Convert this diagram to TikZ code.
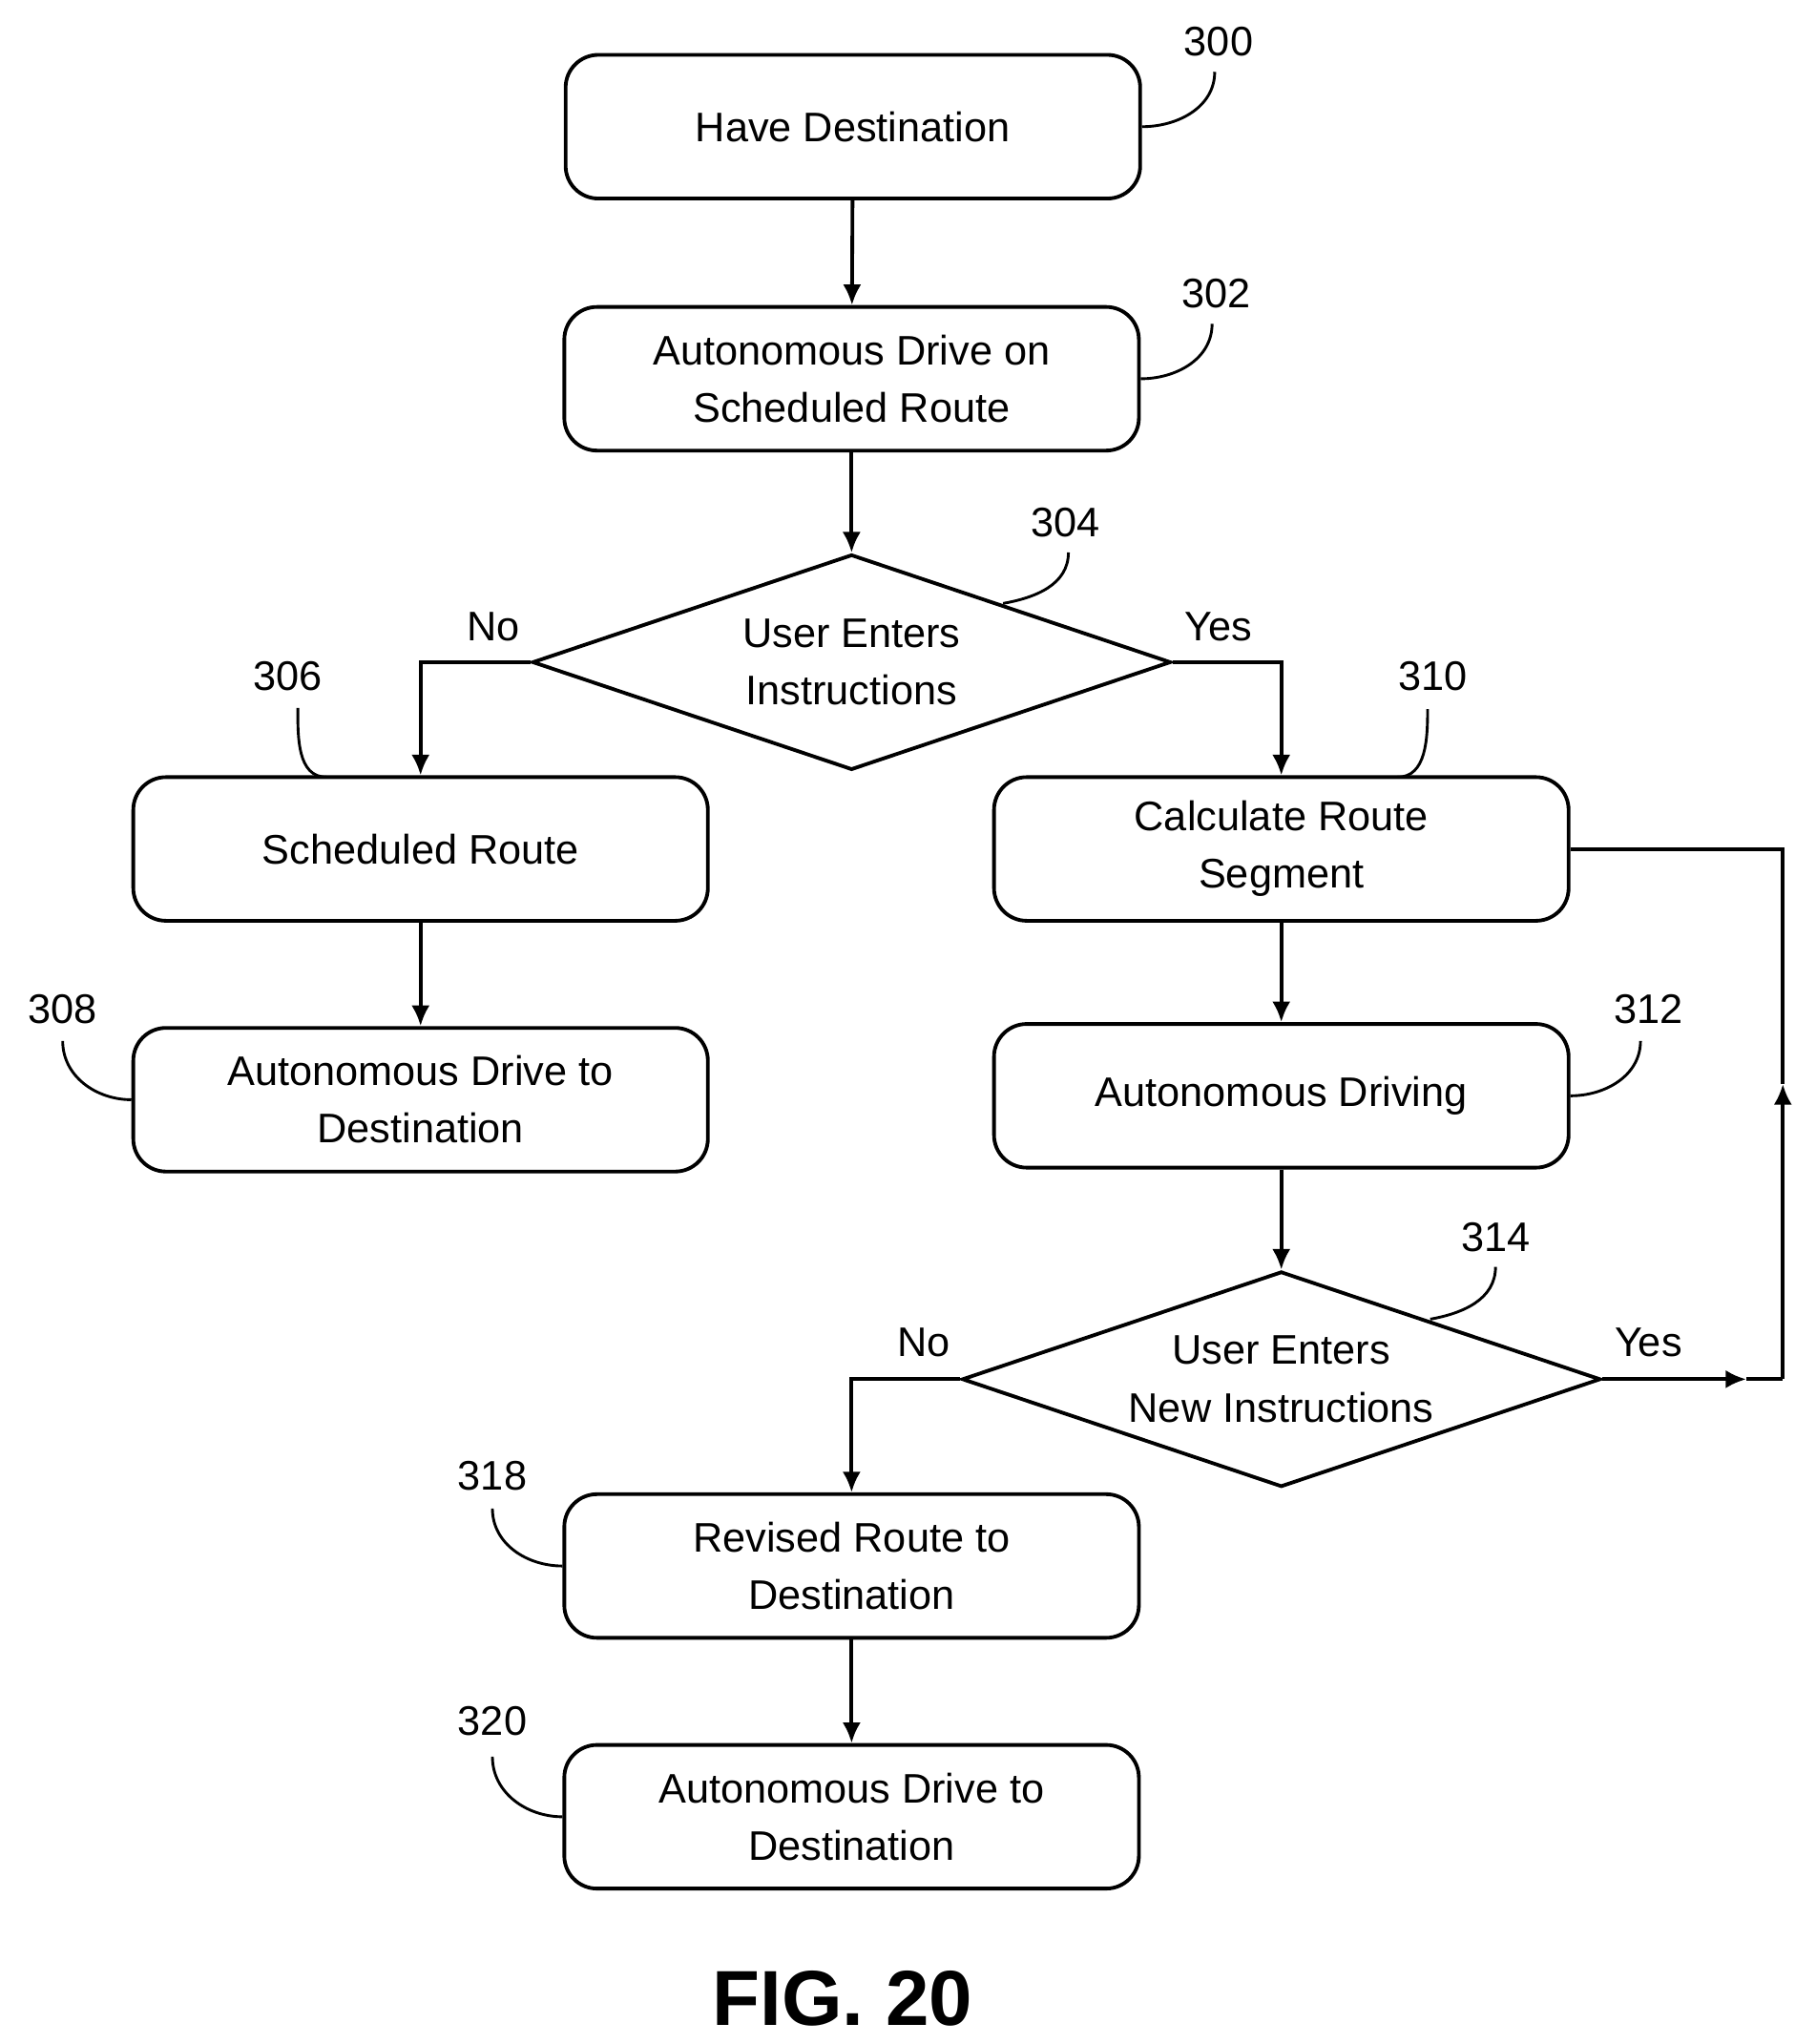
\documentclass[tikz,border=0pt]{standalone}
\usepackage{fontspec}
\setmainfont{Liberation Sans}
\usetikzlibrary{shapes.geometric, arrows.meta}

\begin{document}
\begin{tikzpicture}[x=0.02cm, y=-0.02cm, line width=1.6pt, font=\fontsize{18}{25}\selectfont]

\tikzset{action/.style = {shape=rectangle, draw, rounded corners=0.5cm, minimum width=8.8cm, minimum height=2.2cm, align=center}}
\tikzset{test/.style = {shape=diamond, draw, shape aspect=2.96, minimum width=9.78cm, minimum height=3.3cm, inner sep=0pt, align=center}}
\tikzset{edge/.style = {-{Latex[length=9pt,width=8pt]}}}
\tikzset{lead/.style = {line width=1.2pt}}
\useasboundingbox (0,0) rectangle (1390,1565);
%boxes
\node[action] (300) at (653,97) {Have Destination};
\node[action] (302) at (652,290) {Autonomous Drive on\\Scheduled Route};
\node[test] (304) at (652,507) {User Enters\\Instructions};
\node[action] (306) at (322,650) {Scheduled Route};
\node[action] (308) at (322,842) {Autonomous Drive to\\Destination};
\node[action] (310) at (981,650) {Calculate Route\\Segment};
\node[action] (312) at (981,839) {Autonomous Driving};
\node[test] (314) at (981,1056) {User Enters\\New Instructions};
\node[action] (318) at (652,1199) {Revised Route to\\Destination};
\node[action] (320) at (652,1391) {Autonomous Drive to\\Destination};
\node[font=\bfseries\fontsize{34}{40}\selectfont] (fig) at (645,1530) {FIG. 20};
%reference numbers
\node (n300) at (933,32) {300};
\node (n302) at (931,225) {302};
\node (n304) at (816,400) {304};
\node (n306) at (220,518) {306};
\node (n308) at (48,773) {308};
\node (n310) at (1097,518) {310};
\node (n312) at (1262,773) {312};
\node (n314) at (1145,947) {314};
\node (n318) at (377,1130) {318};
\node (n320) at (377,1318) {320};
\draw[lead] (300.east) to[out=0, in=-90] (930,55);
\draw[lead] (302.east) to[out=0, in=-90] (928,248);
\draw[lead] (768,462) to[out=10, in=-90] (818,423);
\draw[lead] (250,595) to[out=180, in=-90] (228,542);
\draw[lead] (308.west) to[out=180, in=-90] (48,797);
\draw[lead] (1070,595) to[out=0, in=-90] (1093,543);
\draw[lead] (312.east) to[out=0, in=-90] (1256,797);
\draw[lead] (1095,1010) to[out=10, in=-90] (1145,970);
\draw[lead] (318.west) to[out=180, in=-90] (377,1155);
\draw[lead] (320.west) to[out=180, in=-90] (377,1345);
%branch labels
\node (no1) at (378,480) {No};
\node (yes1) at (933,480) {Yes};
\node (no2) at (707,1028) {No};
\node (yes2) at (1262,1028) {Yes};
%edges
\coordinate (c1) at (1337,1056);
\coordinate (c2) at (1365,1056);
\coordinate (c3) at (1365,830);
\draw[edge] (300) -- (302);
\draw[edge] (302) -- (304);
\draw[edge] (304.west) -| (306.north);
\draw[edge] (304.east) -| (310.north);
\draw[edge] (306) -- (308);
\draw[edge] (310) -- (312);
\draw[edge] (312) -- (314);
\draw[edge] (314.west) -| (318.north);
\draw[edge] (318) -- (320);
\draw[edge] (314.east) -- (c1);
\draw (c1) -- (c2);
\draw[edge] (c2) -- (c3);
\draw (c3) |- (310.east);

\end{tikzpicture}
\end{document}
